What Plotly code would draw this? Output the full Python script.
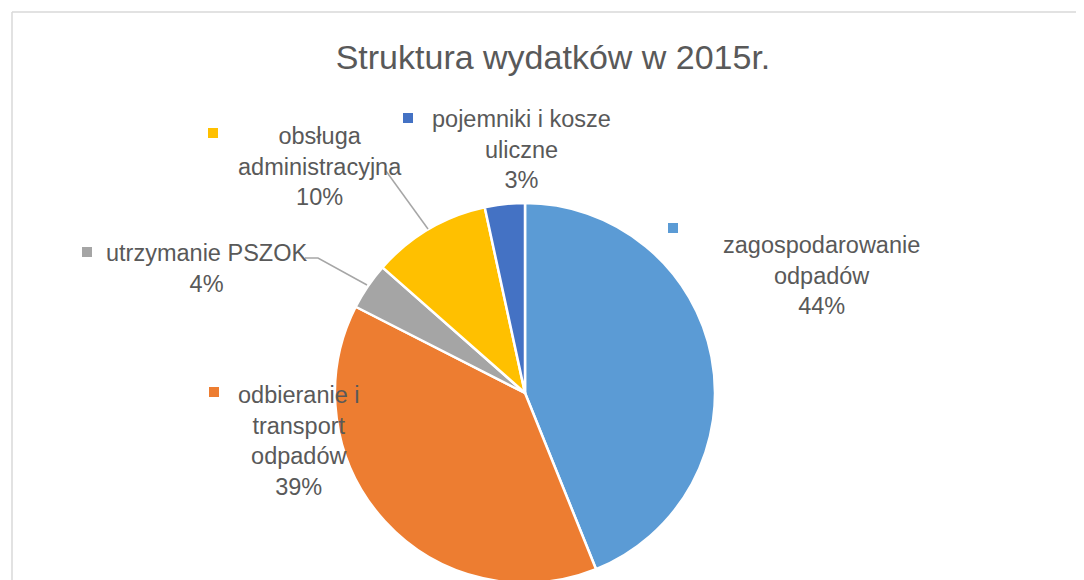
import plotly.graph_objects as go

W, H = 1084, 580
OFF = 8  # page body margin offset compensation

categories = [
    "zagospodarowanie odpadów",
    "odbieranie i transport odpadów",
    "utrzymanie PSZOK",
    "obsługa administracyjna",
    "pojemniki i kosze uliczne",
]
label_lines = [
    "zagospodarowanie<br>odpadów",
    "odbieranie i<br>transport<br>odpadów",
    "utrzymanie PSZOK",
    "obsługa<br>administracyjna",
    "pojemniki i kosze<br>uliczne",
]
values = [43.9, 38.6, 4.0, 10.1, 3.4]
colors = ["#5B9BD5", "#ED7D31", "#A5A5A5", "#FFC000", "#4472C4"]

# label layout (pixel positions in the page): text center, marker square center
label_pos = [(821, 275), (299, 441), (206, 268), (320, 166), (521, 150)]
marker_pos = [(673, 228), (214, 392), (87, 252), (213, 133), (408, 118)]


def px(x):
    return (x - OFF) / W


def py(y):
    return 1 - (y - OFF) / H


total = sum(values)

fig = go.Figure()
r = 190
cx, cy = 525, 393
fig.add_trace(go.Pie(
    labels=categories,
    values=values,
    sort=False,
    direction="clockwise",
    rotation=0,
    marker=dict(colors=colors, line=dict(color="white", width=2.5)),
    textinfo="none",
    hoverinfo="label+percent",
    showlegend=False,
    domain=dict(x=[px(cx - r), px(cx + r)], y=[max(0, py(cy + r)), py(cy - r)]),
))

annotations = []
shapes = []
for name, v, (tx, ty), (mx, my), c in zip(label_lines, values, label_pos, marker_pos, colors):
    pct = round(v / total * 100)
    annotations.append(dict(
        text=f"{name}<br>{pct}%",
        x=px(tx), y=py(ty), xref="paper", yref="paper",
        xanchor="center", yanchor="middle", align="center",
        showarrow=False,
        font=dict(family="Liberation Sans, Arial, sans-serif", size=23.5, color="#595959"),
    ))
    s = 5
    shapes.append(dict(type="rect", xref="paper", yref="paper",
                       x0=px(mx - s), x1=px(mx + s), y0=py(my + s), y1=py(my - s),
                       fillcolor=c, line=dict(width=0)))

# leader lines
shapes.append(dict(type="path", xref="paper", yref="paper",
                   path=f"M {px(386)},{py(171)} L {px(428)},{py(229)}",
                   line=dict(color="#A6A6A6", width=1.5)))
shapes.append(dict(type="path", xref="paper", yref="paper",
                   path=f"M {px(305)},{py(258)} L {px(318)},{py(258)} L {px(367)},{py(285)}",
                   line=dict(color="#A6A6A6", width=1.5)))

# chart frame
shapes.append(dict(type="line", xref="paper", yref="paper",
                   x0=px(12), x1=1, y0=py(12), y1=py(12),
                   line=dict(color="#D9D9D9", width=1.5)))
shapes.append(dict(type="line", xref="paper", yref="paper",
                   x0=px(12), x1=px(12), y0=py(12), y1=0,
                   line=dict(color="#D9D9D9", width=1.5)))

fig.update_layout(
    width=W, height=H,
    margin=dict(l=0, r=0, t=0, b=0),
    paper_bgcolor="white",
    plot_bgcolor="white",
    title=dict(text="Struktura wydatków w 2015r.", x=px(553), y=py(57),
               xanchor="center", yanchor="middle",
               font=dict(family="Liberation Sans, Arial, sans-serif", size=34, color="#595959")),
    annotations=annotations,
    shapes=shapes,
)

fig.write_html("out.html")
